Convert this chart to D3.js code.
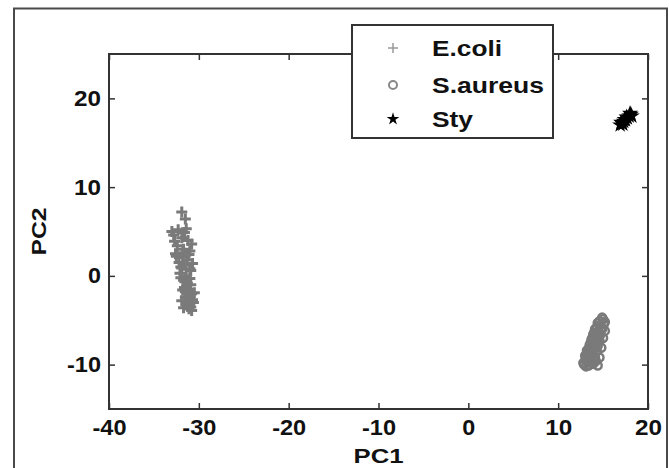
<!DOCTYPE html>
<html>
<head>
<meta charset="utf-8">
<title>PCA scores</title>
<script src="https://d3js.org/d3.v7.min.js"></script>
<style>
  body { margin: 0; background: #fff; }
  svg { display: block; font-family: "Liberation Sans", Arial, sans-serif; }
  .tick text { font-size: 22px; font-weight: bold; fill: #111; }
</style>
</head>
<body>
<svg id="chart"></svg>
<script>
// data
const xTicks = [-40, -30, -20, -10, 0, 10, 20];
const yTicks = [-10, 0, 10, 20];
const seriesNames = ["E.coli", "S.aureus", "Sty"];

const ecoliX = [-31.9, -31.5, -32.3, -31.6, -32.8, -31.9, -31.2, -32.4, -31.7, -31.0, -32.6, -31.8, -31.3, -32.2, -31.6, -31.9, -30.9, -32.1, -31.4, -31.0, -31.7, -31.3, -30.9, -31.6, -31.2, -31.5, -30.8, -31.1, -31.4, -30.7, -31.2, -31.0, -31.3, -30.9, -31.1, -30.8, -31.5, -32.0, -31.8,
  -33.0, -32.5, -31.4, -30.8, -32.7, -31.1, -32.0, -30.7, -31.8, -30.6, -31.9, -31.3, -30.5, -31.7, -31.0];
const ecoliY = [7.2, 6.4, 5.2, 4.9, 4.6, 4.3, 4.0, 3.4, 3.0, 2.8, 2.5, 2.1, 1.8, 1.5, 1.2, 0.9, 0.6, 0.3, 0.0, -0.3, -0.5, -0.8, -1.0, -1.3, -1.5, -1.8, -2.0, -2.2, -2.5, -2.7, -2.9, -3.1, -3.3, -3.5, -3.7, -3.9, -2.4, 1.0, 2.6,
  5.0, 2.2, 5.3, 3.6, 3.9, 2.4, -0.2, 1.4, -1.6, -3.0, -2.8, -0.9, -1.9, -3.6, 0.8];

const saurX = [12.9, 13.4, 13.9, 14.2, 13.1, 13.6, 14.1, 13.2, 13.8, 14.3, 13.4, 13.9, 14.4, 13.6, 14.1, 14.6, 13.8, 14.3, 14.7, 14.0, 14.5, 14.9, 14.3, 14.7, 15.1, 14.6, 15.0, 13.3, 13.7, 14.0, 13.5, 14.2, 14.5, 14.8,
  12.8, 13.0, 14.4, 13.2, 14.6, 13.5, 14.8, 13.7, 15.0, 13.9, 15.2, 14.1, 15.2, 14.4, 14.9, 13.1, 14.0, 14.3];
const saurY = [-10.0, -10.1, -9.9, -9.6, -9.4, -9.3, -9.1, -8.8, -8.7, -8.5, -8.2, -8.0, -7.9, -7.6, -7.4, -7.3, -7.0, -6.8, -6.6, -6.4, -6.2, -6.0, -5.8, -5.5, -5.4, -5.1, -4.9, -9.7, -9.6, -8.3, -8.9, -7.1, -6.9, -5.9,
  -9.8, -9.0, -10.1, -8.4, -9.2, -7.8, -8.1, -7.2, -7.0, -6.6, -6.2, -6.0, -5.2, -5.3, -4.7, -10.2, -9.4, -7.6];

const styX = [16.9, 17.1, 17.3, 17.5, 17.7, 17.9, 18.1, 17.2, 17.6, 17.0, 18.0, 18.2, 17.4];
const styY = [17.0, 17.2, 17.4, 17.6, 17.8, 18.0, 18.2, 17.1, 17.9, 17.3, 18.3, 18.0, 17.6];

const width = 669, height = 468;
const margin = { top: 54, right: 21, bottom: 59, left: 109 };

const svg = d3.select("#chart").attr("width", width).attr("height", height);

// outer figure frame
svg.append("rect")
  .attr("x", 14).attr("y", 8.5)
  .attr("width", 653).attr("height", 470)
  .attr("fill", "none").attr("stroke", "#4a4a4a").attr("stroke-width", 2);

const x = d3.scaleLinear().domain([-40, 20]).range([margin.left, width - margin.right]);
const y = d3.scaleLinear().domain([-15, 25]).range([height - margin.bottom, margin.top]);

// plain hyphen for negatives, like the original
const fmt = d => String(d);

function styleAxis(g) {
  g.select(".domain").remove();
  g.selectAll(".tick line").attr("stroke", "#333").attr("stroke-width", 1.5);
}

// axes, ticks pointing inward on all four sides
svg.append("g")
  .attr("transform", `translate(0,${y(-15)})`)
  .call(d3.axisBottom(x).tickValues(xTicks).tickFormat(fmt).tickSizeInner(-6).tickSizeOuter(0).tickPadding(10))
  .call(styleAxis)
  .selectAll(".tick text")
  .attr("textLength", d => d < 0 ? 34 : (d === 0 ? 13 : 27))
  .attr("lengthAdjust", "spacingAndGlyphs");

svg.append("g")
  .attr("transform", `translate(0,${y(25)})`)
  .call(d3.axisTop(x).tickValues(xTicks).tickSizeInner(-6).tickSizeOuter(0).tickFormat(""))
  .call(styleAxis);

svg.append("g")
  .attr("transform", `translate(${x(-40)},0)`)
  .call(d3.axisLeft(y).tickValues(yTicks).tickFormat(fmt).tickSizeInner(-6).tickSizeOuter(0).tickPadding(8))
  .call(styleAxis)
  .selectAll(".tick text")
  .attr("textLength", d => d < 0 ? 34 : (d === 0 ? 13 : 27))
  .attr("lengthAdjust", "spacingAndGlyphs");

svg.append("g")
  .attr("transform", `translate(${x(20)},0)`)
  .call(d3.axisRight(y).tickValues(yTicks).tickSizeInner(-6).tickSizeOuter(0).tickFormat(""))
  .call(styleAxis);

// plot box
svg.append("rect")
  .attr("x", x(-40)).attr("y", y(25))
  .attr("width", x(20) - x(-40)).attr("height", y(-15) - y(25))
  .attr("fill", "none").attr("stroke", "#333").attr("stroke-width", 2);

// axis labels
svg.append("text")
  .attr("x", (x(-40) + x(20)) / 2 - 25).attr("y", 463)
  .attr("font-size", 21).attr("font-weight", "bold").attr("fill", "#111")
  .attr("textLength", 50).attr("lengthAdjust", "spacingAndGlyphs")
  .text("PC1");

svg.append("text")
  .attr("transform", `translate(46,${(y(-15) + y(25)) / 2 + 24}) rotate(-90)`)
  .attr("font-size", 20).attr("font-weight", "bold").attr("fill", "#111")
  .attr("textLength", 48).attr("lengthAdjust", "spacingAndGlyphs")
  .text("PC2");

const plusPath = s => `M${-s},0H${s}M0,${-s}V${s}`;
const styPath = d3.symbol().type(d3.symbolStar).size(80)();

// E.coli: plus markers
svg.append("g").selectAll("path")
  .data(d3.zip(ecoliX, ecoliY))
  .join("path")
  .attr("transform", d => `translate(${x(d[0])},${y(d[1])})`)
  .attr("d", plusPath(5.5))
  .attr("stroke", "#7a7a7a").attr("stroke-width", 3).attr("fill", "none");

// S.aureus: open circles
svg.append("g").selectAll("circle")
  .data(d3.zip(saurX, saurY))
  .join("circle")
  .attr("cx", d => x(d[0])).attr("cy", d => y(d[1]))
  .attr("r", 4)
  .attr("stroke", "#7a7a7a").attr("stroke-width", 2.5).attr("fill", "none");

// Sty: filled black markers
svg.append("g").selectAll("path")
  .data(d3.zip(styX, styY))
  .join("path")
  .attr("transform", d => `translate(${x(d[0])},${y(d[1])})`)
  .attr("d", styPath)
  .attr("fill", "#000");

// legend
const legend = svg.append("g");
legend.append("rect")
  .attr("x", 352).attr("y", 25).attr("width", 201).attr("height", 113)
  .attr("fill", "#fff").attr("stroke", "#333").attr("stroke-width", 2);

const legendY = [48, 85, 119];
const legendLen = [70, 112, 41];
seriesNames.forEach((name, i) => {
  const cy = legendY[i];
  if (i === 0) {
    legend.append("path").attr("transform", `translate(393,${cy})`)
      .attr("d", plusPath(5)).attr("stroke", "#999").attr("stroke-width", 1.5);
  } else if (i === 1) {
    legend.append("circle").attr("cx", 393).attr("cy", cy).attr("r", 4)
      .attr("fill", "none").attr("stroke", "#888").attr("stroke-width", 2);
  } else {
    legend.append("path").attr("transform", `translate(393,${cy})`)
      .attr("d", d3.symbol().type(d3.symbolStar).size(50)()).attr("fill", "#000");
  }
  legend.append("text")
    .attr("x", 432).attr("y", cy + 8)
    .attr("font-size", 22).attr("font-weight", "bold").attr("fill", "#111")
    .attr("textLength", legendLen[i]).attr("lengthAdjust", "spacingAndGlyphs")
    .text(name);
});
</script>
</body>
</html>
